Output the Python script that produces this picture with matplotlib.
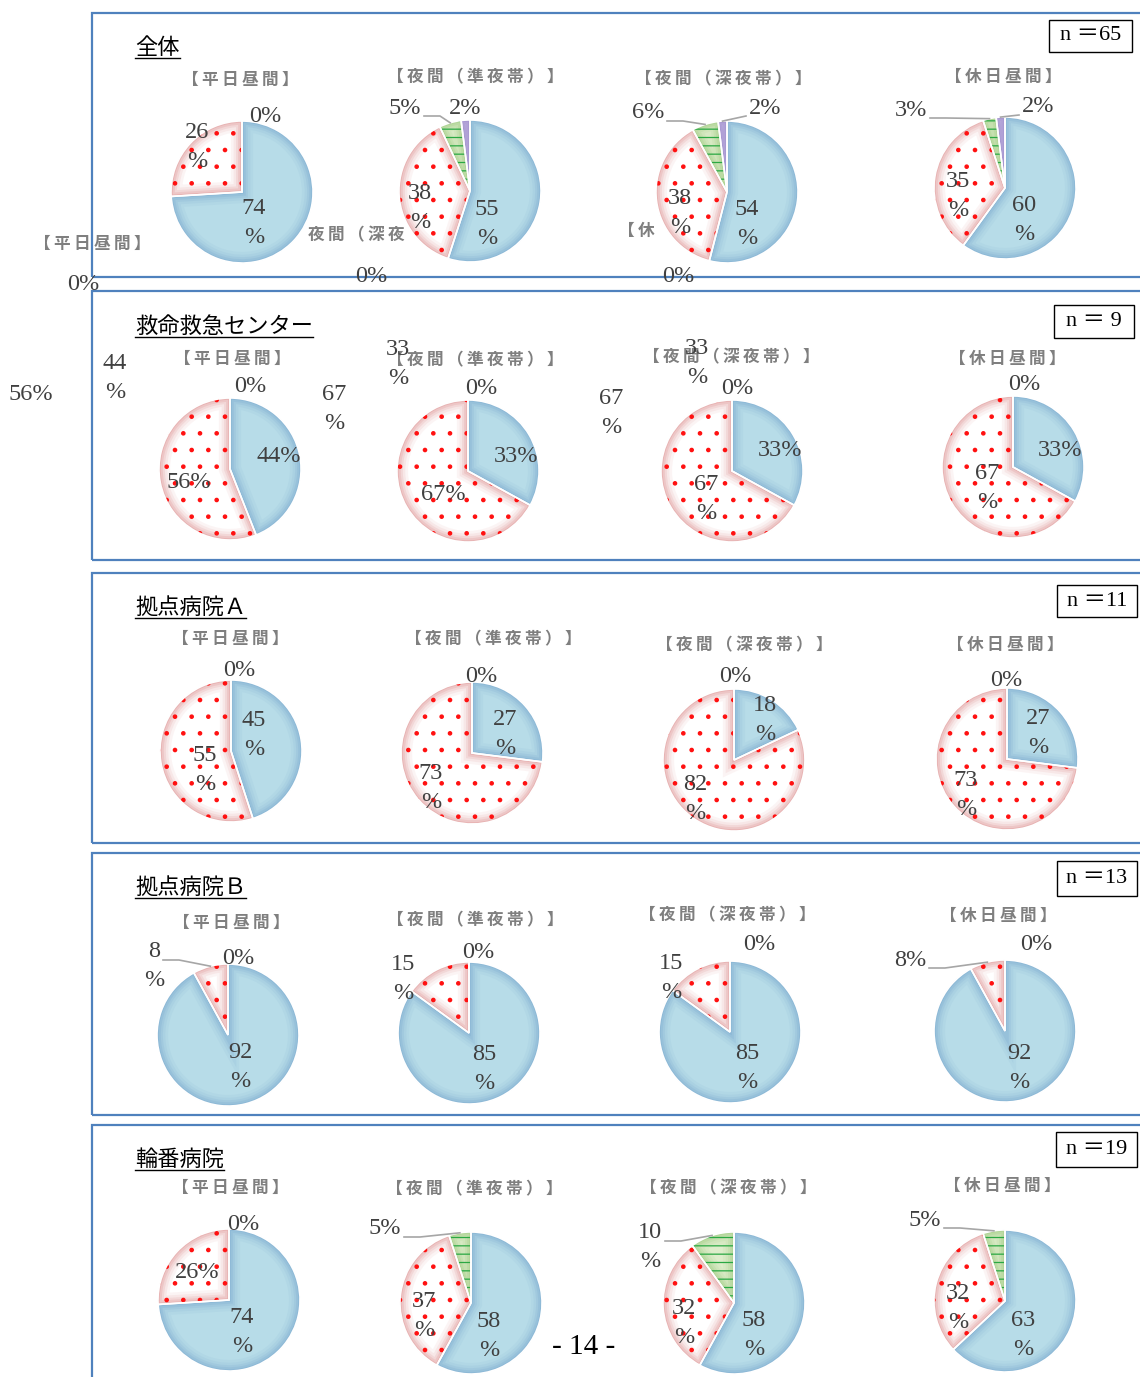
import numpy as np
import matplotlib
matplotlib.use('Agg')
import matplotlib.pyplot as plt
from matplotlib.patches import Wedge, Rectangle

plt.rcParams['hatch.linewidth'] = 0.9

# ---- data -------------------------------------------------------------
GROUPS = ['全体', '救命救急センター', '拠点病院Ａ', '拠点病院Ｂ', '輪番病院']
N_COUNTS = ['65', ' 9', '11', '13', '19']
PERIODS = ['【平日昼間】', '【夜間（準夜帯）】', '【夜間（深夜帯）】', '【休日昼間】']

# shares (%) per pie, order: blue, red dotted, green striped, purple
zentai = [[74, 26, 0, 0], [55, 38, 5, 2], [54, 38, 6, 2], [60, 35, 3, 2]]
kyumei = [[44, 56, 0, 0], [33, 67, 0, 0], [33, 67, 0, 0], [33, 67, 0, 0]]
kyoten_a = [[45, 55, 0, 0], [27, 73, 0, 0], [18, 82, 0, 0], [27, 73, 0, 0]]
kyoten_b = [[92, 8, 0, 0], [85, 15, 0, 0], [85, 15, 0, 0], [92, 8, 0, 0]]
rinban = [[74, 26, 0, 0], [58, 37, 5, 0], [58, 32, 10, 0], [63, 32, 5, 0]]
SHARES = [zentai, kyumei, kyoten_a, kyoten_b, rinban]

# ---- layout / style ---------------------------------------------------
W, H = 1140, 1377
R = 71
PIE_CENTERS = [
    [(242, 192), (470, 191), (727, 192), (1005, 188)],
    [(230, 469), (468, 471), (732, 471), (1013, 467)],
    [(231, 751), (472, 753), (734, 760), (1007, 759)],
    [(228, 1035), (469, 1033), (730, 1032), (1005, 1031)],
    [(229, 1300), (471, 1303), (734, 1303), (1005, 1301)],
]
PANEL_Y = [(13, 277), (291, 560), (573, 843), (853, 1115), (1125, 1400)]
TITLE_Y = [47, 326, 607, 887, 1159]
SUB_POS = [
    [(240, 80), (475, 77), (723, 79), (1003, 77)],
    [(232, 359), (475, 360), (731, 357), (1007, 359)],
    [(230, 639), (493, 639), (744, 645), (1005, 645)],
    [(231, 923), (475, 920), (727, 915), (998, 916)],
    [(230, 1188), (474, 1189), (728, 1188), (1002, 1186)],
]
NBOX = [(1049, 20, 1132, 52), (1054, 305, 1134, 338), (1057, 585, 1137, 617),
        (1057, 861, 1137, 896), (1056, 1132, 1137, 1167)]

# where each data label sits, px offset from its pie centre (x right, y down)
LABEL_OFFSET = {
    (0, 0, 0): (12, 31), (0, 0, 1): (-45, -45), (0, 0, 2): (23, -76),
    (0, 1, 0): (17, 33), (0, 1, 1): (-50, 17), (0, 1, 2): (-65, -83), (0, 1, 3): (-5, -83),
    (0, 2, 0): (20, 32), (0, 2, 1): (-47, 21), (0, 2, 2): (-79, -79), (0, 2, 3): (38, -84),
    (0, 3, 0): (19, 32), (0, 3, 1): (-47, 8), (0, 3, 2): (-94, -78), (0, 3, 3): (33, -81),
    (1, 0, 0): (49, -12), (1, 0, 1): (-41, 13), (1, 0, 2): (20, -82),
    (1, 1, 0): (48, -15), (1, 1, 1): (-25, 23), (1, 1, 2): (13, -83),
    (1, 2, 0): (48, -20), (1, 2, 1): (-26, 28), (1, 2, 2): (5, -82),
    (1, 3, 0): (47, -17), (1, 3, 1): (-26, 21), (1, 3, 2): (11, -82),
    (2, 0, 0): (23, -16), (2, 0, 1): (-26, 19), (2, 0, 2): (8, -80),
    (2, 1, 0): (33, -19), (2, 1, 1): (-41, 35), (2, 1, 2): (9, -77),
    (2, 2, 0): (31, -40), (2, 2, 1): (-39, 39), (2, 2, 2): (1, -84),
    (2, 3, 0): (31, -26), (2, 3, 1): (-41, 36), (2, 3, 2): (-1, -78),
    (3, 0, 0): (12, 32), (3, 0, 1): (-74, -69), (3, 0, 2): (10, -77),
    (3, 1, 0): (15, 36), (3, 1, 1): (-66, -54), (3, 1, 2): (9, -80),
    (3, 2, 0): (17, 36), (3, 2, 1): (-59, -54), (3, 2, 2): (29, -88),
    (3, 3, 0): (14, 37), (3, 3, 1): (-95, -71), (3, 3, 2): (31, -87),
    (4, 0, 0): (13, 32), (4, 0, 1): (-32, -27), (4, 0, 2): (14, -75),
    (4, 1, 0): (18, 33), (4, 1, 1): (-47, 13), (4, 1, 2): (-86, -74),
    (4, 2, 0): (20, 32), (4, 2, 1): (-50, 20), (4, 2, 2): (-84, -56),
    (4, 3, 0): (18, 34), (4, 3, 1): (-47, 7), (4, 3, 2): (-80, -81),
}
# labels printed on one line (others wrap "%" to a 2nd line)
ONE_LINE = {(1, 0, 0), (1, 0, 1), (1, 1, 0), (1, 1, 1), (1, 2, 0), (1, 3, 0), (4, 0, 1),
            (0, 1, 2), (0, 1, 3), (0, 2, 2), (0, 2, 3), (0, 3, 2), (0, 3, 3),
            (3, 3, 1), (4, 1, 2), (4, 3, 2)}
# small slices whose label gets a leader line
LEADER = {(0, 1, 2), (0, 2, 2), (0, 2, 3), (0, 3, 2), (0, 3, 3), (3, 0, 1), (3, 3, 1),
          (4, 1, 2), (4, 2, 2), (4, 3, 2)}

FILL = ['#b7dce8', '#ffffff', '#deedcb', '#cbbfe6']
RIM = ['#6f9fcb', '#d77a7a', '#8fc46e', '#8e7cc3']
HATCH = [None, '.', '--', None]
HATCH_COL = [None, '#ff1010', '#2aa843', None]
TXT = '#404040'
LBL = 17.5
SERIF = ['Liberation Serif', 'Noto Sans CJK JP']
CJK = ['Noto Sans CJK JP', 'DejaVu Sans']

# stray labels visible in the scanned page
STRAYS = [
    ('0%', 83, 285), ('0%', 371, 277), ('0%', 678, 276),
    ('56%', 31, 395), ('44\n%', 115, 378), ('67\n%', 334, 409),
    ('33\n%', 398, 364), ('67\n%', 611, 413), ('33\n%', 697, 363),
]
STRAY_SUBS = [('【平日昼間】', 92, 244), ('夜間（深夜', 356, 235), ('【休', 636, 231)]


def Y(y):
    return H - y


def spaced(s):
    return '\u2009'.join(s)


def half_width(s):
    return (12 * sum(c.isdigit() for c in s) + 20 * s.count('%')) / 2


fig = plt.figure(figsize=(W / 100, H / 100), dpi=100)
ax = fig.add_axes([0, 0, 1, 1])

# panel frames
for y0, y1 in PANEL_Y:
    ax.add_patch(Rectangle((92, Y(y1)), 1100, y1 - y0, fill=False,
                           edgecolor='#4f81bd', linewidth=1.6, zorder=1))

titles = []
for gi, group in enumerate(SHARES):
    t = ax.text(135, Y(TITLE_Y[gi]), GROUPS[gi], fontsize=16, family=CJK,
                ha='left', va='center', color='black', zorder=5)
    titles.append(t)
    x0, y0, x1, y1 = NBOX[gi]
    ax.add_patch(Rectangle((x0, Y(y1)), x1 - x0, y1 - y0, fill=True, facecolor='white',
                           edgecolor='black', linewidth=1.0, zorder=5))
    ax.text((x0 + x1) / 2, Y((y0 + y1) / 2), 'n ＝' + N_COUNTS[gi], fontsize=16,
            family=SERIF, ha='center', va='center', color='black', zorder=6)

    for pi, vals in enumerate(group):
        cx, cy = PIE_CENTERS[gi][pi]
        sx, sy = SUB_POS[gi][pi]
        ax.text(sx, Y(sy), spaced(PERIODS[pi]), fontsize=12, family=CJK,
                fontweight='bold', color='#7f7f7f', ha='center', va='center', zorder=5)

        wedges, _ = ax.pie(vals, colors=FILL, startangle=90, counterclock=False,
                           center=(cx, Y(cy)), radius=R, explode=[0.05] * len(vals),
                           wedgeprops=dict(linewidth=0, zorder=2), frame=True)
        for k, w in enumerate(wedges):
            if vals[k] == 0:
                continue
            # soft darker rim towards the slice edges
            for lw, a in [(16, 0.08), (12, 0.1), (8.5, 0.14), (5.5, 0.18), (2.5, 0.26)]:
                g = Wedge(w.center, w.r, w.theta1, w.theta2, facecolor='none',
                          edgecolor=RIM[k], linewidth=lw, alpha=a, zorder=3)
                ax.add_patch(g)
                g.set_clip_path(w)
            if HATCH[k]:
                h = Wedge(w.center, w.r, w.theta1, w.theta2, facecolor='none',
                          edgecolor=HATCH_COL[k], linewidth=0, hatch=HATCH[k], zorder=3)
                ax.add_patch(h)
            ax.add_patch(Wedge(w.center, w.r, w.theta1, w.theta2, facecolor='none',
                               edgecolor='white', linewidth=1.2, zorder=4))

        # data labels
        for k, w in enumerate(wedges):
            v = vals[k]
            key = (gi, pi, k)
            if v == 0 and k != 2:
                continue
            one = key in ONE_LINE or v == 0
            txt = f'{v}%' if one else f'{v}\n%'
            ang = np.deg2rad((w.theta1 + w.theta2) / 2)
            if key in LABEL_OFFSET:
                dx, dy = LABEL_OFFSET[key]
                lx, ly = cx + dx, Y(cy + dy)
            else:
                lx = w.center[0] + 0.55 * R * np.cos(ang)
                ly = w.center[1] + 0.55 * R * np.sin(ang)
            ax.text(lx, ly, txt, fontsize=LBL, family=SERIF, color=TXT, ha='center',
                    va='center', linespacing=1.45, zorder=6)
            if key in LEADER:
                ex = w.center[0] + w.r * np.cos(ang)
                ey = w.center[1] + w.r * np.sin(ang)
                first = txt.split('\n')[0]
                yy = ly - 8 + (0 if one else 14)
                hw = half_width(first)
                if k == 3:
                    ax.plot([lx - hw - 3, ex], [yy, ey], color='#a6a6a6', lw=1.2, zorder=5)
                else:
                    xs = lx + hw + 3
                    ax.plot([xs, xs + 16, ex], [yy, yy, ey], color='#a6a6a6',
                            lw=1.2, zorder=5)

for s, x, y in STRAYS:
    ax.text(x, Y(y), s, fontsize=LBL, family=SERIF, color=TXT, ha='center',
            va='center', linespacing=1.45, zorder=6)
for s, x, y in STRAY_SUBS:
    ax.text(x, Y(y), spaced(s), fontsize=12, family=CJK, fontweight='bold',
            color='#7f7f7f', ha='center', va='center', zorder=6)

ax.text(584, Y(1347), '- 14 -', fontsize=21, family=SERIF, color='black',
        ha='center', va='center', zorder=6)

ax.set_xlim(0, W)
ax.set_ylim(0, H)
ax.set_aspect('auto')
ax.axis('off')

# underline the group titles
fig.canvas.draw()
for t in titles:
    bb = t.get_window_extent()
    ax.plot([bb.x0, bb.x1], [bb.y0 + 1, bb.y0 + 1], color='black', lw=1.0, zorder=6)

fig.savefig('out.png', dpi=100)
